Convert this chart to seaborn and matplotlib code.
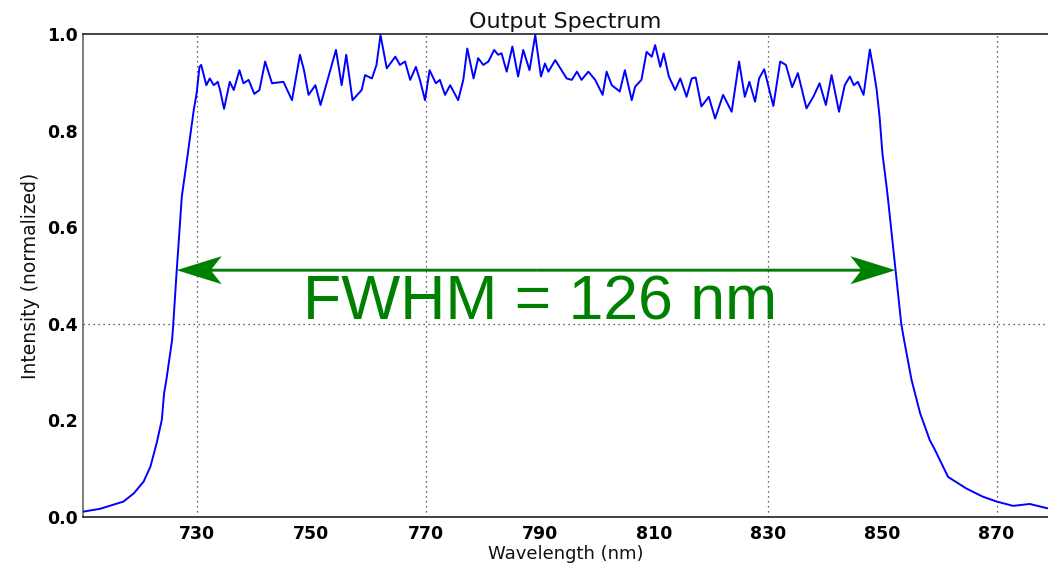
import matplotlib
matplotlib.use("Agg")
import matplotlib.pyplot as plt
import seaborn as sns
import pandas as pd

# ---- data ----
wavelength = [
    710.0, 713.0, 717.1, 718.9, 720.6, 721.8, 722.9, 723.8, 724.2, 724.6,
    725.6, 725.8, 726.4, 727.3, 728.2, 729.4, 729.9, 730.4, 730.7, 731.6,
    732.2, 732.9, 733.6, 734.0, 734.7, 735.7, 736.4, 737.4, 738.1, 739.0,
    740.0, 740.9, 741.9, 743.1, 745.1, 746.6, 748.0, 748.7, 749.5, 750.7,
    751.6, 753.0, 754.3, 755.3, 756.1, 757.2, 758.8, 759.4, 760.6, 761.4,
    762.1, 763.2, 764.7, 765.5, 766.4, 767.3, 768.3, 769.0, 769.9, 770.7,
    771.8, 772.5, 773.4, 774.3, 775.7, 776.6, 777.3, 778.4, 779.2, 780.1,
    781.0, 782.0, 782.7, 783.3, 784.2, 785.2, 786.2, 787.1, 788.2, 789.2,
    790.2, 790.9, 791.5, 792.7, 794.7, 795.6, 796.5, 797.3, 798.5, 799.7,
    801.0, 801.7, 802.6, 804.0, 804.9, 806.1, 806.7, 807.8, 808.7, 809.6,
    810.2, 811.1, 811.7, 812.6, 813.7, 814.6, 815.7, 816.6, 817.3, 818.3,
    819.6, 820.7, 822.1, 823.6, 824.9, 825.9, 826.7, 827.7, 828.4, 829.3,
    830.9, 832.1, 833.1, 834.2, 835.2, 836.7, 837.9, 839.0, 840.1, 841.1,
    842.4, 843.4, 844.3, 845.0, 845.7, 846.7, 847.8, 848.4, 849.0, 849.5,
    850.0, 850.7, 851.0, 852.3, 853.3, 853.8, 855.1, 856.6, 858.3, 859.2,
    861.5, 864.7, 867.6, 870.0, 872.9, 875.8, 878.9,
]
intensity = [
    0.011, 0.017, 0.032, 0.049, 0.073, 0.104, 0.153, 0.201, 0.256, 0.284,
    0.366, 0.398, 0.508, 0.663, 0.739, 0.843, 0.877, 0.932, 0.936, 0.894,
    0.908, 0.894, 0.901, 0.884, 0.845, 0.901, 0.884, 0.925, 0.898, 0.905,
    0.876, 0.884, 0.943, 0.898, 0.901, 0.863, 0.957, 0.925, 0.874, 0.894,
    0.853, 0.912, 0.967, 0.894, 0.957, 0.863, 0.884, 0.915, 0.908, 0.936,
    0.998, 0.929, 0.953, 0.936, 0.943, 0.905, 0.932, 0.905, 0.863, 0.925,
    0.898, 0.905, 0.874, 0.894, 0.863, 0.905, 0.970, 0.908, 0.950, 0.936,
    0.943, 0.967, 0.957, 0.960, 0.922, 0.974, 0.912, 0.967, 0.925, 0.998,
    0.912, 0.939, 0.922, 0.946, 0.908, 0.905, 0.922, 0.905, 0.922, 0.905,
    0.874, 0.922, 0.894, 0.881, 0.925, 0.863, 0.891, 0.905, 0.963, 0.953,
    0.977, 0.932, 0.960, 0.912, 0.884, 0.908, 0.870, 0.908, 0.910, 0.850,
    0.870, 0.825, 0.874, 0.839, 0.943, 0.870, 0.901, 0.860, 0.908, 0.927,
    0.851, 0.943, 0.936, 0.890, 0.919, 0.846, 0.870, 0.898, 0.853, 0.915,
    0.839, 0.894, 0.912, 0.894, 0.901, 0.874, 0.968, 0.929, 0.884, 0.829,
    0.753, 0.687, 0.656, 0.511, 0.400, 0.366, 0.284, 0.215, 0.159, 0.139,
    0.083, 0.059, 0.042, 0.032, 0.023, 0.027, 0.018,
]
x_ticks = [730, 750, 770, 790, 810, 830, 850, 870]
y_ticks = [0.0, 0.2, 0.4, 0.6, 0.8, 1.0]
x_grid = [730, 770, 830, 870]
y_grid = [0.4]

fwhm_left = 726.4
fwhm_right = 852.3
fwhm_level = 0.511
fwhm_text = "FWHM = 126 nm"
fwhm_text_x = 790.0
fwhm_text_y = 0.408

title = "Output Spectrum"
x_label = "Wavelength (nm)"
y_label = "Intensity (normalized)"

df = pd.DataFrame({"wavelength": wavelength, "intensity": intensity})

# ---- styling ----
sns.set_theme(style="white")
plt.rcParams["font.family"] = ["DejaVu Sans"]

fig = plt.figure(figsize=(10.48, 5.64), dpi=100)
ax = fig.add_axes([83 / 1048, 1 - 517 / 564, 1 - 83 / 1048, (517 - 34) / 564])

for gx in x_grid:
    ax.axvline(gx, color="#333333", linestyle=(0, (1, 3)), linewidth=0.9, zorder=1)
for gy in y_grid:
    ax.axhline(gy, color="#333333", linestyle=(0, (1, 3)), linewidth=0.9, zorder=1)

sns.lineplot(data=df, x="wavelength", y="intensity", sort=False,
             color="#0000ff", linewidth=1.4, ax=ax, zorder=3)

ax.set_xlim(710, 879)
ax.set_ylim(0, 1.0)
ax.set_xticks(x_ticks)
ax.set_yticks(y_ticks)
ax.set_xticklabels([str(v) for v in x_ticks], fontweight="bold", fontsize=12.5)
ax.set_yticklabels([f"{v:.1f}" for v in y_ticks], fontweight="bold", fontsize=12.5)
ax.tick_params(axis="x", length=0, pad=6, colors="black")
ax.tick_params(axis="y", length=0, pad=4, colors="black")

ax.set_xlabel(x_label, fontsize=13, labelpad=1, color="#111111")
ax.set_ylabel(y_label, fontsize=13.5, labelpad=5, color="#111111")
ax.set_title(title, fontsize=16, pad=4, color="#111111")

for side in ["top", "bottom"]:
    ax.spines[side].set_color("#222222")
    ax.spines[side].set_linewidth(1.2)
ax.spines["left"].set_color("#666666")
ax.spines["left"].set_linewidth(1.2)
ax.spines["right"].set_visible(False)

# ---- FWHM double arrow ----
mid = (fwhm_left + fwhm_right) / 2
green = "#008000"
arrow_kw = dict(width=0.006, head_width=0.058, head_length=7.9, overhang=0.22,
                length_includes_head=True, color=green, zorder=4, linewidth=0)
ax.arrow(mid, fwhm_level, fwhm_left - mid, 0, **arrow_kw)
ax.arrow(mid, fwhm_level, fwhm_right - mid, 0, **arrow_kw)

ax.text(fwhm_text_x, fwhm_text_y, fwhm_text, color=green, fontsize=45,
        family="Liberation Sans", ha="center", va="baseline", zorder=4)

fig.savefig("out.png", dpi=100)
